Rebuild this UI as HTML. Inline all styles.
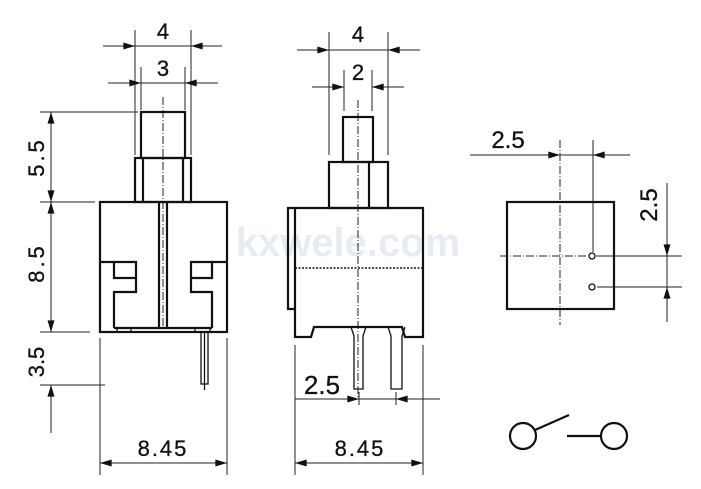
<!DOCTYPE html>
<html><head><meta charset="utf-8"><style>
html,body{margin:0;padding:0;background:#fff;}
svg{display:block;}
text{font-family:"Liberation Sans",Arial,sans-serif;fill:#111;}
</style></head><body>
<svg width="701" height="489" viewBox="0 0 701 489" xmlns="http://www.w3.org/2000/svg">
<defs>
<marker id="a" viewBox="0 0 10 6" refX="10" refY="3" markerWidth="16" markerHeight="7" markerUnits="userSpaceOnUse" orient="auto"><path d="M0,0 L10,3 L0,6 Z" fill="#111"/></marker>
</defs>
<text x="348" y="256" font-size="40" font-weight="bold" style="fill:#e6ecf3" text-anchor="middle">kxwele.com</text>

<g stroke="#222" stroke-width="1" fill="none">
<line x1="135" y1="30" x2="135" y2="155"/><line x1="191" y1="30" x2="191" y2="155"/>
<line x1="103" y1="46" x2="135" y2="46" marker-end="url(#a)"/><line x1="222" y1="46" x2="191" y2="46" marker-end="url(#a)"/>
<line x1="135" y1="46" x2="191" y2="46"/>
<line x1="141" y1="67" x2="141" y2="110"/><line x1="185" y1="67" x2="185" y2="110"/>
<line x1="108" y1="83" x2="141" y2="83" marker-end="url(#a)"/><line x1="218" y1="83" x2="185" y2="83" marker-end="url(#a)"/>
<line x1="141" y1="83" x2="185" y2="83"/>
<line x1="40" y1="112" x2="138" y2="112"/><line x1="40" y1="202" x2="95" y2="202"/>
<line x1="40" y1="332" x2="90" y2="332"/><line x1="40" y1="385" x2="105" y2="385"/>
<line x1="51" y1="157" x2="51" y2="112" marker-end="url(#a)"/><line x1="51" y1="157" x2="51" y2="202" marker-end="url(#a)"/>
<line x1="51" y1="267" x2="51" y2="202" marker-end="url(#a)"/><line x1="51" y1="267" x2="51" y2="332" marker-end="url(#a)"/>
<line x1="51" y1="433" x2="51" y2="385" marker-end="url(#a)"/>
<line x1="100" y1="338" x2="100" y2="475"/><line x1="227" y1="338" x2="227" y2="475"/>
<line x1="163" y1="463" x2="100" y2="463" marker-end="url(#a)"/><line x1="163" y1="463" x2="227" y2="463" marker-end="url(#a)"/>
<line x1="163" y1="97" x2="163" y2="330" stroke-dasharray="8,2,1,2"/>

<line x1="329" y1="32" x2="329" y2="155"/><line x1="388" y1="32" x2="388" y2="155"/>
<line x1="297" y1="50" x2="329" y2="50" marker-end="url(#a)"/><line x1="420" y1="50" x2="388" y2="50" marker-end="url(#a)"/>
<line x1="329" y1="50" x2="388" y2="50"/>
<line x1="344" y1="70" x2="344" y2="111"/><line x1="372" y1="70" x2="372" y2="111"/>
<line x1="312" y1="87" x2="344" y2="87" marker-end="url(#a)"/><line x1="404" y1="87" x2="372" y2="87" marker-end="url(#a)"/>
<line x1="358" y1="100" x2="358" y2="398" stroke-dasharray="8,2,1,2"/>
<line x1="295" y1="345" x2="295" y2="475"/><line x1="423" y1="345" x2="423" y2="475"/>
<line x1="359" y1="463" x2="295" y2="463" marker-end="url(#a)"/><line x1="359" y1="463" x2="423" y2="463" marker-end="url(#a)"/>
<line x1="359" y1="392" x2="359" y2="405"/><line x1="396" y1="392" x2="396" y2="405"/>
<line x1="295" y1="399" x2="359" y2="399" marker-end="url(#a)"/><line x1="440" y1="399" x2="396" y2="399" marker-end="url(#a)"/>
<line x1="359" y1="399" x2="396" y2="399"/>

<line x1="560" y1="140" x2="560" y2="325" stroke-dasharray="8,2,1,2"/>
<line x1="500" y1="256" x2="588" y2="256" stroke-dasharray="8,2,1,2"/>
<line x1="596" y1="256" x2="682" y2="256"/><line x1="597" y1="287" x2="682" y2="287"/>
<line x1="593" y1="140" x2="593" y2="252"/>
<line x1="470" y1="155" x2="560" y2="155" marker-end="url(#a)"/><line x1="630" y1="155" x2="593" y2="155" marker-end="url(#a)"/>
<line x1="560" y1="155" x2="593" y2="155"/>
<line x1="667" y1="183" x2="667" y2="256" marker-end="url(#a)"/><line x1="667" y1="322" x2="667" y2="287" marker-end="url(#a)"/>
<line x1="667" y1="256" x2="667" y2="287"/>
</g>

<g stroke="#111" stroke-width="2.2" fill="none">
<rect x="100" y="202" width="127" height="130"/>
<rect x="141" y="112" width="44" height="46"/>
<rect x="135" y="158" width="56" height="44"/>
<line x1="143" y1="158" x2="143" y2="202"/><line x1="183" y1="158" x2="183" y2="202"/>
<line x1="159" y1="202" x2="159" y2="328"/><line x1="167" y1="202" x2="167" y2="328"/>
<polyline points="100,262 136,262 136,292 114,292 114,328"/>
<polyline points="114,262 114,278 136,278"/>
<polyline points="227,262 191,262 191,292 212,292 212,328"/>
<polyline points="212,262 212,278 191,278"/>
<line x1="114" y1="328" x2="212" y2="328"/>
<polyline points="295,309 288,309 288,208 423,208 423,337 405,337 402,327 314,327 311,337 295,337 295,208"/>
<rect x="343" y="117" width="30" height="45"/>
<rect x="329" y="162" width="59" height="46"/>
<line x1="369" y1="162" x2="369" y2="208"/>
<rect x="507" y="202" width="107" height="107"/>
<circle cx="523" cy="436" r="13"/><circle cx="614" cy="436" r="13"/>
<line x1="535" y1="430" x2="569" y2="415"/><line x1="567" y1="436" x2="601" y2="436"/>
</g>
<g stroke="#111" stroke-width="1.3" fill="none">
<line x1="117" y1="328" x2="117" y2="332"/><line x1="131" y1="328" x2="131" y2="332"/>
<line x1="195" y1="328" x2="195" y2="332"/><line x1="210" y1="328" x2="210" y2="332"/>
<rect x="201" y="332" width="7" height="52"/>
<line x1="204.5" y1="332" x2="204.5" y2="390"/>
<line x1="295" y1="268" x2="423" y2="268" stroke-dasharray="2,1.5" stroke-width="1.6"/>
<path d="M351,327 L354,336 L354,389 L363,389 L363,336 L366,327"/>
<path d="M388,327 L391,336 L391,389 L402,389 L402,336 L405,327"/>
<circle cx="592" cy="256" r="3"/><circle cx="592" cy="287" r="3"/>
</g>

<g font-size="22" style="stroke:#111;stroke-width:0.3">
<text x="163" y="39" text-anchor="middle">4</text>
<text x="163" y="76" text-anchor="middle">3</text>
<text x="358" y="42" text-anchor="middle">4</text>
<text x="358" y="80" text-anchor="middle">2</text>
<text x="163" y="456" text-anchor="middle" letter-spacing="2">8.45</text>
<text x="360" y="456" text-anchor="middle" letter-spacing="2">8.45</text>
<text x="322" y="394" text-anchor="middle" font-size="26">2.5</text>
<text x="508" y="148" text-anchor="middle" font-size="24">2.5</text>
<text transform="translate(44,157) rotate(-90)" text-anchor="middle" letter-spacing="3">5.5</text>
<text transform="translate(44,263) rotate(-90)" text-anchor="middle" letter-spacing="3">8.5</text>
<text transform="translate(44,362) rotate(-90)" text-anchor="middle">3.5</text>
<text transform="translate(657,205) rotate(-90)" text-anchor="middle" font-size="24">2.5</text>
</g>
</svg>
</body></html>
